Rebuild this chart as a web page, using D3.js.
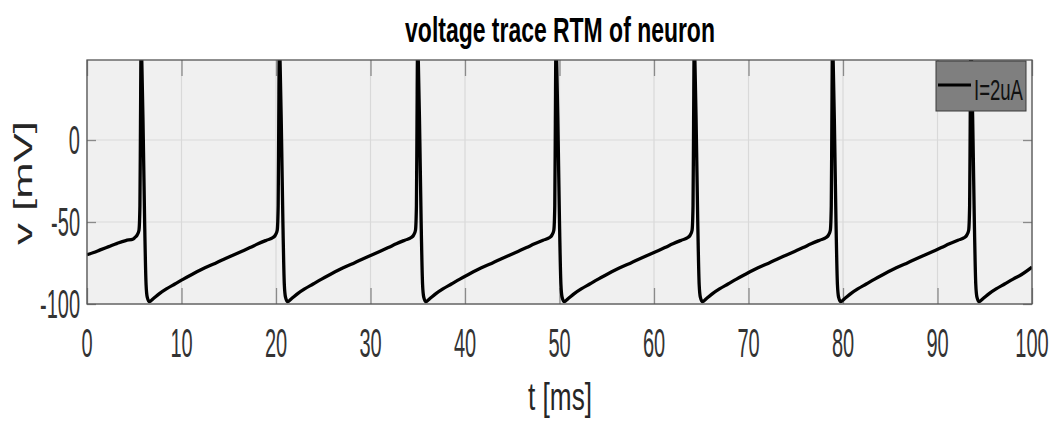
<!DOCTYPE html>
<html>
<head>
<meta charset="utf-8">
<script src="https://cdn.jsdelivr.net/npm/d3@7"></script>
<style>
  body { margin: 0; background: #fff; }
  text { font-family: "Liberation Sans", Arial, sans-serif; }
</style>
</head>
<body>
<div id="chart"></div>
<script>
const width = 1054;
const height = 424;
const margin = { top: 60, right: 22, bottom: 120, left: 87 };

// membrane voltage, I = 2 uA
const timeMs = [
  0, 0.7, 1.4, 2.3, 3.2, 4.1, 4.9, 5.05, 5.3, 5.5, 5.6, 5.66, 5.72, 5.8, 5.96, 6.1, 6.25, 6.38, 6.6,
  7.0, 7.7, 8.4, 9.3, 10.2, 11.1, 12.0, 12.9, 13.7, 14.6, 15.5, 16.4, 17.25, 18.1, 19.0, 19.68,
  19.93, 20.13, 20.23, 20.29, 20.35, 20.43, 20.59, 20.73, 20.88, 21.01, 21.23,
  21.63, 22.33, 23.03, 23.93, 24.83, 25.73, 26.63, 27.53, 28.33, 29.23, 30.13, 31.03, 31.88, 32.73, 33.63, 34.31,
  34.56, 34.76, 34.86, 34.92, 34.98, 35.06, 35.22, 35.36, 35.51, 35.64, 35.86,
  36.26, 36.96, 37.66, 38.56, 39.46, 40.36, 41.26, 42.16, 42.96, 43.86, 44.76, 45.66, 46.51, 47.36, 48.26, 48.95,
  49.2, 49.4, 49.5, 49.56, 49.62, 49.7, 49.86, 50.0, 50.15, 50.28, 50.5,
  50.9, 51.6, 52.3, 53.2, 54.1, 55.0, 55.9, 56.8, 57.6, 58.5, 59.4, 60.3, 61.15, 62.0, 62.9, 63.58,
  63.83, 64.03, 64.13, 64.19, 64.25, 64.33, 64.49, 64.63, 64.78, 64.91, 65.13,
  65.53, 66.23, 66.93, 67.83, 68.73, 69.63, 70.53, 71.43, 72.23, 73.13, 74.03, 74.93, 75.78, 76.63, 77.53, 78.21,
  78.46, 78.66, 78.76, 78.82, 78.88, 78.96, 79.12, 79.26, 79.41, 79.54, 79.76,
  80.16, 80.86, 81.56, 82.46, 83.36, 84.26, 85.16, 86.06, 86.86, 87.76, 88.66, 89.56, 90.41, 91.26, 92.16, 92.85,
  93.1, 93.3, 93.4, 93.46, 93.52, 93.6, 93.76, 93.9, 94.05, 94.18, 94.4,
  94.8, 95.5, 96.2, 97.1, 98.0, 98.9, 100
];
const voltageMv = [
  -70, -68.6, -67, -65, -63, -61.3, -60.3, -59.5, -58, -55, -40, 10, 56, 48, 0, -50, -88, -96, -98.6,
  -96.8, -93.5, -90.8, -87.8, -84.8, -82, -79.3, -76.8, -74.8, -72.4, -70.1, -67.8, -65.6, -63.3, -61.1, -59.5,
  -58, -55, -40, 10, 56, 48, 0, -50, -88, -96, -98.6,
  -96.8, -93.5, -90.8, -87.8, -84.8, -82, -79.3, -76.8, -74.8, -72.4, -70.1, -67.8, -65.6, -63.3, -61.1, -59.5,
  -58, -55, -40, 10, 56, 48, 0, -50, -88, -96, -98.6,
  -96.8, -93.5, -90.8, -87.8, -84.8, -82, -79.3, -76.8, -74.8, -72.4, -70.1, -67.8, -65.6, -63.3, -61.1, -59.5,
  -58, -55, -40, 10, 56, 48, 0, -50, -88, -96, -98.6,
  -96.8, -93.5, -90.8, -87.8, -84.8, -82, -79.3, -76.8, -74.8, -72.4, -70.1, -67.8, -65.6, -63.3, -61.1, -59.5,
  -58, -55, -40, 10, 56, 48, 0, -50, -88, -96, -98.6,
  -96.8, -93.5, -90.8, -87.8, -84.8, -82, -79.3, -76.8, -74.8, -72.4, -70.1, -67.8, -65.6, -63.3, -61.1, -59.5,
  -58, -55, -40, 10, 56, 48, 0, -50, -88, -96, -98.6,
  -96.8, -93.5, -90.8, -87.8, -84.8, -82, -79.3, -76.8, -74.8, -72.4, -70.1, -67.8, -65.6, -63.3, -61.1, -59.5,
  -58, -55, -40, 10, 56, 48, 0, -50, -88, -96, -98.6,
  -96.8, -93.5, -90.8, -87.8, -84.8, -82, -77.5
];

const xTicks = [0, 10, 20, 30, 40, 50, 60, 70, 80, 90, 100];
const yTicks = [-100, -50, 0];
const legendLabel = "I=2uA";

const data = timeMs.map((t, i) => ({ t, v: voltageMv[i] }));

const innerW = width - margin.left - margin.right;
const innerH = height - margin.top - margin.bottom;

const x = d3.scaleLinear().domain([0, 100]).range([0, innerW]);
const y = d3.scaleLinear().domain([-100, 48.8]).range([innerH, 0]);

const svg = d3.select("#chart").append("svg")
  .attr("width", width)
  .attr("height", height);

svg.append("defs").append("clipPath")
  .attr("id", "clip")
  .append("rect")
  .attr("width", innerW)
  .attr("height", innerH);

const g = svg.append("g")
  .attr("transform", `translate(${margin.left},${margin.top})`);

g.append("rect")
  .attr("width", innerW)
  .attr("height", innerH)
  .attr("fill", "#f0f0f0");

// grid
g.append("g").selectAll("line")
  .data(xTicks)
  .join("line")
  .attr("x1", d => x(d)).attr("x2", d => x(d))
  .attr("y1", 0).attr("y2", innerH)
  .attr("stroke", "#d9d9d9")
  .attr("stroke-width", 1.2);

g.append("g").selectAll("line")
  .data(yTicks)
  .join("line")
  .attr("x1", 0).attr("x2", innerW)
  .attr("y1", d => y(d)).attr("y2", d => y(d))
  .attr("stroke", "#d9d9d9")
  .attr("stroke-width", 1.2);

// ticks on all four sides, pointing inward
function styleAxis(sel) {
  sel.select(".domain").remove();
  sel.selectAll("text").remove();
  sel.selectAll("line").attr("stroke", "#8a8a8a").attr("stroke-width", 1.3);
}

g.append("g").attr("transform", `translate(0,${innerH})`)
  .call(d3.axisBottom(x).tickValues(xTicks).tickSizeInner(-16).tickSizeOuter(0))
  .call(styleAxis);
g.append("g")
  .call(d3.axisTop(x).tickValues(xTicks).tickSizeInner(-16).tickSizeOuter(0))
  .call(styleAxis);
g.append("g")
  .call(d3.axisLeft(y).tickValues(yTicks).tickSizeInner(-9).tickSizeOuter(0))
  .call(styleAxis);
g.append("g").attr("transform", `translate(${innerW},0)`)
  .call(d3.axisRight(y).tickValues(yTicks).tickSizeInner(-9).tickSizeOuter(0))
  .call(styleAxis);

// trace
const line = d3.line()
  .x(d => x(d.t))
  .y(d => y(d.v))
  .curve(d3.curveMonotoneX);

g.append("path")
  .datum(data)
  .attr("clip-path", "url(#clip)")
  .attr("fill", "none")
  .attr("stroke", "#000")
  .attr("stroke-width", 3.3)
  .attr("stroke-linejoin", "round")
  .attr("d", line);

// box
g.append("rect")
  .attr("width", innerW)
  .attr("height", innerH)
  .attr("fill", "none")
  .attr("stroke", "#555")
  .attr("stroke-width", 1.3);

// tick labels (narrow, tall glyphs)
const tickFont = 40;
const tickSx = 0.5;

g.append("g").selectAll("text")
  .data(xTicks)
  .join("text")
  .attr("transform", d => `translate(${x(d)},${innerH + 53}) scale(${tickSx},1)`)
  .attr("text-anchor", "middle")
  .style("font-size", tickFont + "px")
  .attr("fill", "#333")
  .text(d => d);

g.append("g").selectAll("text")
  .data(yTicks)
  .join("text")
  .attr("transform", d => `translate(-7,${y(d) + 14}) scale(${tickSx},1)`)
  .attr("text-anchor", "end")
  .style("font-size", tickFont + "px")
  .attr("fill", "#333")
  .text(d => d);

function fitText(sel, cx, cy, w, rotate) {
  const n = sel.node().getComputedTextLength();
  sel.attr("text-anchor", "middle")
    .attr("transform", `translate(${cx},${cy})${rotate ? " rotate(-90)" : ""} scale(${w / n},1)`);
}

// title
svg.append("text")
  .style("font-size", "35px")
  .style("font-weight", "bold")
  .attr("fill", "#000")
  .text("voltage trace RTM of neuron")
  .call(fitText, 560, 42, 310);

// axis labels
svg.append("text")
  .style("font-size", "38px")
  .attr("fill", "#262626")
  .text("t [ms]")
  .call(fitText, 560, 410, 64);

svg.append("text")
  .style("font-size", "26px")
  .attr("fill", "#262626")
  .text("v [mV]")
  .call(fitText, 32, 183, 124, true);

// legend
const legend = svg.append("g");
legend.append("rect")
  .attr("x", 936).attr("y", 61)
  .attr("width", 90).attr("height", 50)
  .attr("fill", "#7f7f7f")
  .attr("stroke", "#3a3a3a")
  .attr("stroke-width", 1);
legend.append("line")
  .attr("x1", 938).attr("x2", 971)
  .attr("y1", 85).attr("y2", 85)
  .attr("stroke", "#000")
  .attr("stroke-width", 3);
legend.append("text")
  .style("font-size", "30px")
  .attr("fill", "#111")
  .text(legendLabel)
  .call(fitText, 998.5, 100, 49);
</script>
</body>
</html>
